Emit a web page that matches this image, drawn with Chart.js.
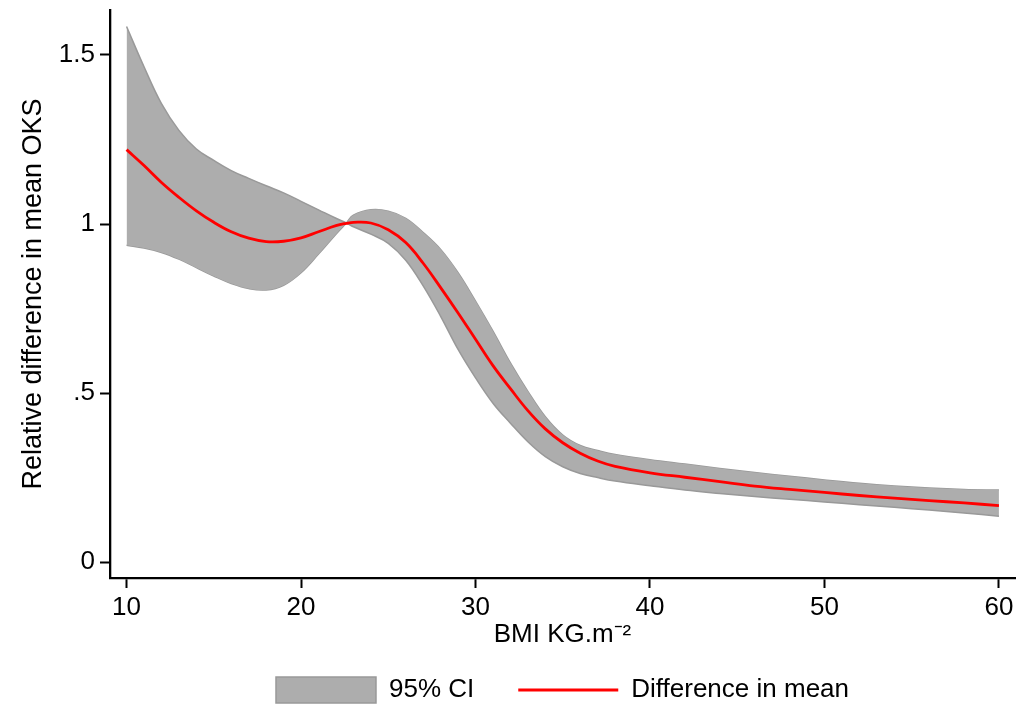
<!DOCTYPE html>
<html>
<head>
<meta charset="utf-8">
<script src="https://cdn.jsdelivr.net/npm/chart.js@4.4.0/dist/chart.umd.min.js"></script>
<style>
  html, body { margin: 0; padding: 0; background: #fff; }
  #wrap { width: 1028px; height: 704px; }
</style>
</head>
<body>
<div id="wrap"><canvas id="oksChart" width="1028" height="704"></canvas></div>
<script>
// --- data ---
const bmi = [10, 11, 12, 13, 14, 15, 16, 17, 18, 19, 20, 21, 22, 22.6, 23, 24, 25, 26, 27, 28, 29, 30,
             31, 32, 33, 34, 35, 36, 37, 38, 40, 42, 44, 46, 48, 50, 52, 54, 56, 58, 60];
const meanDiff = [1.220, 1.173, 1.123, 1.079, 1.039, 1.005, 0.977, 0.958, 0.948, 0.949, 0.959, 0.977, 0.995, 1.002,
                  1.005, 1.003, 0.983, 0.945, 0.884, 0.812, 0.737, 0.659, 0.581, 0.513, 0.448, 0.394, 0.353, 0.322,
                  0.299, 0.283, 0.264, 0.251, 0.238, 0.225, 0.215, 0.206, 0.197, 0.189, 0.182, 0.175, 0.167];
// the two CI edges cross near BMI 22.6: edge 1 is the top edge on the left, edge 2 the top edge on the right
const ciEdge1 = [1.584, 1.465, 1.356, 1.277, 1.222, 1.188, 1.158, 1.135, 1.113, 1.092, 1.067, 1.042, 1.017, 1.003,
                 0.992, 0.970, 0.943, 0.893, 0.817, 0.727, 0.629, 0.545, 0.470, 0.411, 0.356, 0.312, 0.282, 0.262,
                 0.250, 0.240, 0.226, 0.213, 0.203, 0.194, 0.186, 0.178, 0.170, 0.162, 0.154, 0.145, 0.136];
const ciEdge2 = [0.937, 0.929, 0.916, 0.896, 0.871, 0.846, 0.824, 0.809, 0.805, 0.819, 0.856, 0.911, 0.970, 1.003,
                 1.026, 1.042, 1.038, 1.017, 0.975, 0.925, 0.856, 0.772, 0.683, 0.589, 0.505, 0.430, 0.376, 0.345,
                 0.330, 0.318, 0.303, 0.290, 0.277, 0.265, 0.254, 0.243, 0.233, 0.225, 0.219, 0.215, 0.213];
const xTicks = [10, 20, 30, 40, 50, 60];
const yTicks = [0, 0.5, 1, 1.5];
const yTickLabels = ['0', '.5', '1', '1.5'];

const FONT = "'Liberation Sans', Arial, Helvetica, sans-serif";
const pts = (ys) => bmi.map((x, i) => ({ x: x, y: ys[i] }));

// keep the legend centred under the plot area rather than the whole canvas
const legendUnderPlot = {
    id: 'legendUnderPlot',
    afterLayout(chart) {
        const lg = chart.legend;
        if (!lg) return;
        lg.left = chart.chartArea.left;
        lg.right = chart.chartArea.right;
    }
};

const ctx = document.getElementById('oksChart').getContext('2d');
new Chart(ctx, {
    type: 'line',
    data: {
        datasets: [
            {
                label: 'Difference in mean',
                data: pts(meanDiff),
                borderColor: '#ff0000',
                backgroundColor: '#ff0000',
                borderWidth: 2.8,
                pointRadius: 0,
                pointStyle: 'line',
                tension: 0.4,
                fill: false
            },
            {
                label: '95% CI',
                data: pts(ciEdge1),
                borderColor: '#999999',
                backgroundColor: '#adadad',
                borderWidth: 1.5,
                pointRadius: 0,
                pointStyle: 'rect',
                tension: 0.4,
                fill: '+1'
            },
            {
                label: 'ci-edge',
                data: pts(ciEdge2),
                borderColor: '#999999',
                backgroundColor: '#adadad',
                borderWidth: 1.5,
                pointRadius: 0,
                tension: 0.4,
                fill: false
            }
        ]
    },
    plugins: [legendUnderPlot],
    options: {
        responsive: false,
        animation: false,
        devicePixelRatio: 1,
        layout: { padding: { top: 10, right: 13, left: 0, bottom: -9 } },
        plugins: {
            tooltip: { enabled: false },
            legend: {
                position: 'bottom',
                labels: {
                    color: '#000',
                    font: { family: FONT, size: 26 },
                    usePointStyle: true,
                    pointStyleWidth: 100,
                    padding: 44,
                    filter: (item) => item.text !== 'ci-edge',
                    sort: (a, b) => b.datasetIndex - a.datasetIndex
                }
            }
        },
        scales: {
            x: {
                type: 'linear',
                min: 9.05,
                max: 60.92,
                afterBuildTicks: (s) => { s.ticks = xTicks.map(v => ({ value: v })); },
                afterFit: (s) => { s.height = 55; s.paddingLeft = 0; s.paddingRight = 0; },
                border: { display: true, color: '#000', width: 2.3 },
                grid: { drawOnChartArea: false, drawTicks: true, tickLength: 10, tickColor: '#000', tickWidth: 2 },
                ticks: { color: '#000', font: { family: FONT, size: 26 }, padding: 4, maxRotation: 0 },
                title: {
                    display: true,
                    text: 'BMI KG.m\u207B\u00B2',
                    color: '#000',
                    font: { family: FONT, size: 26 },
                    padding: { top: 0, bottom: -17 }
                }
            },
            y: {
                min: -0.047,
                max: 1.633,
                afterBuildTicks: (s) => { s.ticks = yTicks.map(v => ({ value: v })); },
                afterFit: (s) => { s.width = 110; s.paddingTop = 0; s.paddingBottom = 0; },
                border: { display: true, color: '#000', width: 2.3 },
                grid: { drawOnChartArea: false, drawTicks: true, tickLength: 10, tickColor: '#000', tickWidth: 2 },
                ticks: {
                    color: '#000',
                    font: { family: FONT, size: 26 },
                    padding: 5,
                    callback: (v) => yTickLabels[yTicks.indexOf(v)]
                },
                title: {
                    display: true,
                    text: 'Relative difference in mean OKS',
                    color: '#000',
                    font: { family: FONT, size: 27 },
                    padding: { top: 17, bottom: 0 }
                }
            }
        }
    }
});
</script>
</body>
</html>
